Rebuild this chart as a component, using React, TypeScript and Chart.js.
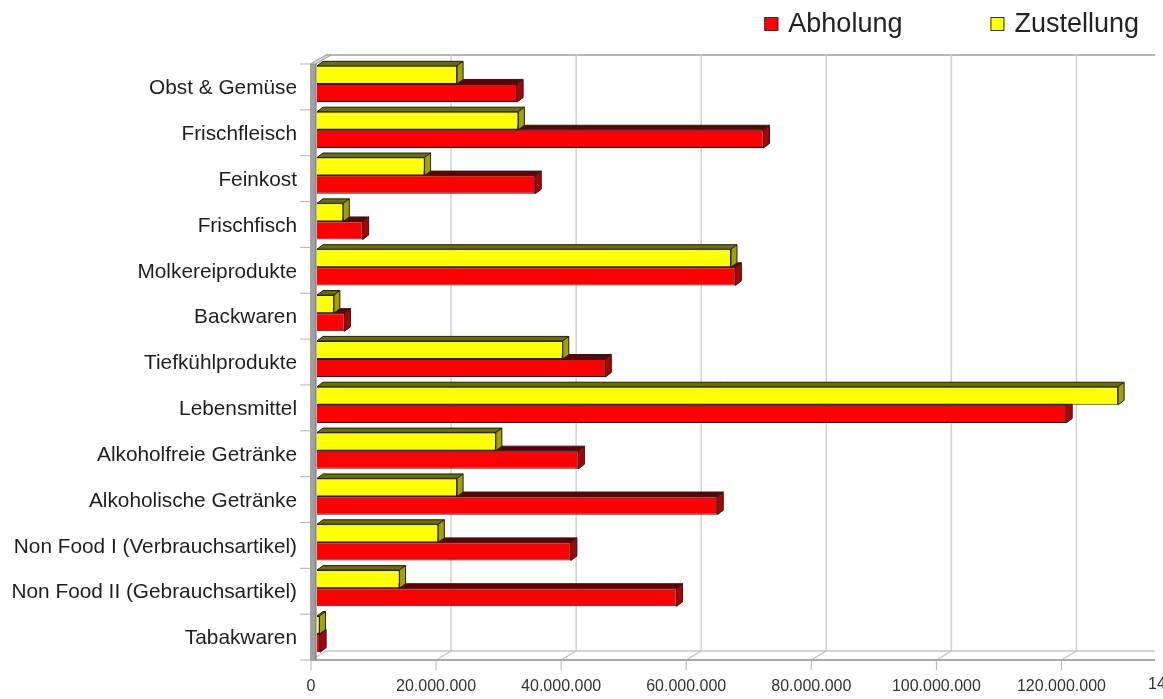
import { useEffect, useRef } from 'react';
import { Chart, registerables } from 'chart.js';

Chart.register(...registerables);

// ---- data ----
const categories = [
  'Obst & Gemüse',
  'Frischfleisch',
  'Feinkost',
  'Frischfisch',
  'Molkereiprodukte',
  'Backwaren',
  'Tiefkühlprodukte',
  'Lebensmittel',
  'Alkoholfreie Getränke',
  'Alkoholische Getränke',
  'Non Food I (Verbrauchsartikel)',
  'Non Food II (Gebrauchsartikel)',
  'Tabakwaren',
];

const zustellung = [
  22400000, 32200000, 17200000, 4200000, 66200000, 2700000, 39300000,
  128100000, 28600000, 22400000, 19400000, 13200000, 400000,
];

const abholung = [
  32000000, 71400000, 34900000, 7300000, 66900000, 4400000, 46100000,
  119800000, 41800000, 64000000, 40600000, 57500000, 500000,
];

const xTickValues = [0, 20000000, 40000000, 60000000, 80000000, 100000000, 120000000];
const xMax = 134000000;
const xCutTick = 140000000;

const fmt = (v: number) => String(Math.round(v)).replace(/\B(?=(\d{3})+(?!\d))/g, '.');

const FONT = '"Liberation Sans", Arial, sans-serif';
const FRONT = { dx: -6, dy: 3 };
const BACK = { dx: 9, dy: -6 };
const DEPTH = { dx: 6, dy: -4.5 };

const faceColors: Record<string, { top: string; side: string }> = {
  '#ffff00': { top: '#6e6e00', side: '#a3a300' },
  '#ff0000': { top: '#650000', side: '#b00000' },
};

const frame3d = {
  id: 'frame3d',
  beforeDatasetsDraw(chart: any) {
    const { ctx, chartArea: a, scales } = chart;
    const x = scales.x;
    const n = categories.length;
    const fTop = a.top + FRONT.dy;
    const fBot = a.bottom + FRONT.dy;
    const bTop = a.top + BACK.dy;
    const bBot = a.bottom + BACK.dy;
    const fLeft = a.left + FRONT.dx;
    const bLeft = a.left + BACK.dx;
    const right = a.right;
    const line = (x1: number, y1: number, x2: number, y2: number) => {
      ctx.beginPath();
      ctx.moveTo(x1, y1);
      ctx.lineTo(x2, y2);
      ctx.stroke();
    };
    const gridVals = [...xTickValues, xCutTick];
    ctx.save();
    // back wall top edge
    ctx.strokeStyle = '#b8b8b8';
    ctx.lineWidth = 2;
    line(bLeft, bTop, right, bTop);
    // back grid lines
    ctx.strokeStyle = '#d0d0d0';
    ctx.lineWidth = 1.5;
    gridVals.forEach((v) => {
      if (v === 0) return;
      const px = x.getPixelForValue(v) + BACK.dx;
      if (px <= right) line(px, bTop, px, bBot);
    });
    // floor back edge
    ctx.strokeStyle = '#c6c6c6';
    line(bLeft, bBot, right, bBot);
    // floor slanted lines
    ctx.strokeStyle = '#c0c0c0';
    ctx.lineWidth = 1.2;
    gridVals.forEach((v) => {
      const px = x.getPixelForValue(v);
      if (px + FRONT.dx <= right) line(px + FRONT.dx, fBot, Math.min(px + BACK.dx, right), bBot);
    });
    // floor front edge
    ctx.strokeStyle = '#a9a9a9';
    ctx.lineWidth = 2;
    line(fLeft - 1, fBot, right, fBot);
    // bottom tick marks
    ctx.strokeStyle = '#b4b4b4';
    ctx.lineWidth = 1;
    gridVals.forEach((v) => {
      const px = x.getPixelForValue(v) + FRONT.dx;
      line(px, fBot + 1, px, fBot + 10);
    });
    // left wall top
    ctx.fillStyle = '#d2d2d2';
    ctx.strokeStyle = '#a0a0a0';
    ctx.beginPath();
    ctx.moveTo(fLeft - 1, fTop);
    ctx.lineTo(bLeft, bTop);
    ctx.lineTo(bLeft + 5, bTop);
    ctx.lineTo(fLeft + 5, fTop);
    ctx.closePath();
    ctx.fill();
    ctx.stroke();
    // left wall band
    ctx.fillStyle = '#a0a0a0';
    ctx.fillRect(fLeft - 1, fTop, 6, fBot - fTop);
    ctx.strokeStyle = '#707070';
    line(fLeft + 5, fTop, fLeft + 5, fBot);
    // y tick marks
    ctx.strokeStyle = '#b0b0b0';
    for (let i = 0; i <= n; i++) {
      const yy = a.top + (i * (a.bottom - a.top)) / n + FRONT.dy;
      line(fLeft - 11, yy, fLeft - 1, yy);
    }
    ctx.restore();
  },
  afterDatasetDraw(chart: any, args: any) {
    const { ctx } = chart;
    const meta = args.meta;
    const ds = chart.data.datasets[args.index];
    const fc = faceColors[ds.backgroundColor as string];
    ctx.save();
    ctx.lineWidth = 1;
    ctx.strokeStyle = '#1e1e1e';
    meta.data.forEach((el: any) => {
      const { x, y, base, height } = el.getProps(['x', 'y', 'base', 'height'], true);
      const top = y - height / 2;
      const bottom = y + height / 2;
      // top face
      ctx.fillStyle = fc.top;
      ctx.beginPath();
      ctx.moveTo(base, top);
      ctx.lineTo(base + DEPTH.dx, top + DEPTH.dy);
      ctx.lineTo(x + DEPTH.dx, top + DEPTH.dy);
      ctx.lineTo(x, top);
      ctx.closePath();
      ctx.fill();
      ctx.stroke();
      // side face
      ctx.fillStyle = fc.side;
      ctx.beginPath();
      ctx.moveTo(x, top);
      ctx.lineTo(x + DEPTH.dx, top + DEPTH.dy);
      ctx.lineTo(x + DEPTH.dx, bottom + DEPTH.dy);
      ctx.lineTo(x, bottom);
      ctx.closePath();
      ctx.fill();
      ctx.stroke();
    });
    ctx.restore();
  },
  afterDraw(chart: any) {
    const { ctx, scales } = chart;
    const x = scales.x;
    ctx.save();
    // cut-off last tick label
    ctx.font = `16px ${FONT}`;
    ctx.fillStyle = '#333333';
    ctx.textAlign = 'center';
    ctx.textBaseline = 'top';
    ctx.fillText(fmt(xCutTick), x.getPixelForValue(xCutTick) + FRONT.dx + 6, x.top + 20);
    // legend
    const items = [...chart.data.datasets].reverse().map((d: any) => ({ label: d.label, color: d.backgroundColor }));
    ctx.font = `27px ${FONT}`;
    ctx.textAlign = 'left';
    ctx.textBaseline = 'alphabetic';
    let xr = chart.width - 24;
    const pos: { x: number; item: any }[] = [];
    for (let i = items.length - 1; i >= 0; i--) {
      const w = ctx.measureText(items[i].label).width;
      const tx = xr - w;
      pos.unshift({ x: tx, item: items[i] });
      xr = tx - 24 - 88;
    }
    pos.forEach(({ x: tx, item }) => {
      ctx.fillStyle = item.color;
      ctx.fillRect(tx - 24, 17, 14, 14);
      ctx.strokeStyle = '#333333';
      ctx.lineWidth = 1;
      ctx.strokeRect(tx - 23.5, 17.5, 13, 13);
      ctx.fillStyle = '#222222';
      ctx.fillText(item.label, tx, 31.5);
    });
    ctx.restore();
  },
};

export default function App() {
  const ref = useRef<HTMLCanvasElement>(null);
  useEffect(() => {
    if (!ref.current) return;
    const chart = new Chart(ref.current, {
      type: 'bar',
      data: {
        labels: categories,
        datasets: [
          {
            label: 'Zustellung',
            data: zustellung,
            backgroundColor: '#ffff00',
            borderColor: '#1e1e1e',
            borderWidth: 1,
            categoryPercentage: 0.79,
            barPercentage: 1,
          },
          {
            label: 'Abholung',
            data: abholung,
            backgroundColor: '#ff0000',
            borderColor: '#1e1e1e',
            borderWidth: 1,
            categoryPercentage: 0.79,
            barPercentage: 1,
          },
        ],
      },
      options: {
        indexAxis: 'y',
        responsive: false,
        animation: false,
        layout: { padding: { top: 61, right: 8, left: 0, bottom: 0 } },
        plugins: { legend: { display: false }, tooltip: { enabled: false } },
        scales: {
          x: {
            type: 'linear',
            min: 0,
            max: xMax,
            grid: { display: false, drawTicks: false },
            border: { display: false },
            afterBuildTicks: (s: any) => {
              s.ticks = xTickValues.map((v) => ({ value: v }));
            },
            ticks: {
              labelOffset: FRONT.dx,
              padding: 20,
              color: '#333333',
              font: { family: FONT, size: 16 },
              maxRotation: 0,
              autoSkip: false,
              callback: (v: any) => fmt(Number(v)),
            },
            afterFit: (s: any) => {
              s.height = 42;
            },
          },
          y: {
            grid: { display: false, drawTicks: false },
            border: { display: false },
            ticks: {
              padding: 20,
              labelOffset: 4.5,
              color: '#1e1e1e',
              font: { family: FONT, size: 20.8 },
              autoSkip: false,
            },
            afterFit: (s: any) => {
              s.width = 317;
            },
          },
        },
      },
      plugins: [frame3d],
    } as any);
    return () => chart.destroy();
  }, []);
  return (
    <div
      style={{
        position: 'fixed',
        left: 0,
        top: 0,
        width: 1163,
        height: 699,
        overflow: 'hidden',
        background: '#ffffff',
      }}
    >
      <canvas ref={ref} width={1163} height={699} style={{ display: 'block' }} />
    </div>
  );
}
